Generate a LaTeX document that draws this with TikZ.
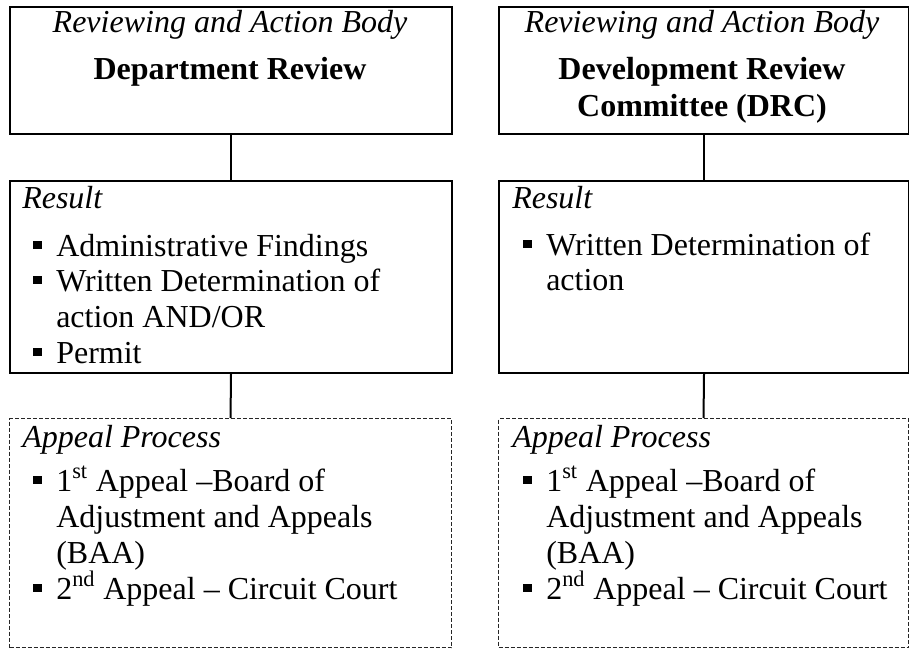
\documentclass[tikz,border=0pt]{standalone}
\usepackage{fontspec}
\setmainfont{Liberation Serif}
\begin{document}
\begin{tikzpicture}[x=0.75pt,y=-0.75pt,
  font=\fontsize{24pt}{27pt}\selectfont,
  solidbox/.style={draw, line width=1.5pt, inner sep=0pt, anchor=north west},
  dashbox/.style={draw=black!85, line width=0.8pt, dash pattern=on 3pt off 1.5pt, inner sep=0pt, anchor=north west},
  txt/.style={inner sep=0pt, anchor=base west},
  ctr/.style={inner sep=0pt, anchor=base},
  bul/.style={inner sep=0pt, anchor=base west},
  conn/.style={line width=1.5pt}]
\useasboundingbox (0,0) rectangle (909,649);
\newcommand\sqbul{\rule[5.25pt]{6.3pt}{6.3pt}}

% ---------- left column ----------
\node[solidbox, minimum width=331.5pt, minimum height=95.25pt] (b1) at (9,6) {};
\node[solidbox, minimum width=331.5pt, minimum height=144pt] (r1) at (9,180) {};
\node[dashbox, minimum width=331.5pt, minimum height=171.75pt] (a1) at (9,418) {};

\node[ctr] (b1t) at (230,33) {\itshape Reviewing and Action Body};
\node[ctr] (b1n) at (230,80) {\bfseries Department Review};

\node[txt] (r1t) at (22,208) {\itshape Result};
\node[bul] (r1b1) at (33,256) {\sqbul};
\node[txt] (r1l1) at (56,256) {Administrative Findings};
\node[bul] (r1b2) at (33,291) {\sqbul};
\node[txt] (r1l2) at (56,291) {Written Determination of};
\node[txt] (r1l3) at (56,327) {action AND/OR};
\node[bul] (r1b3) at (33,363) {\sqbul};
\node[txt] (r1l4) at (56,363) {Permit};

\node[txt] (a1t) at (22,447) {\itshape Appeal Process};
\node[bul] (a1b1) at (33,491) {\sqbul};
\node[txt] (a1l1) at (56,491) {1\textsuperscript{st} Appeal --Board of};
\node[txt] (a1l2) at (56,527) {Adjustment and Appeals};
\node[txt] (a1l3) at (56,563) {(BAA)};
\node[bul] (a1b2) at (33,599) {\sqbul};
\node[txt] (a1l4) at (56,599) {2\textsuperscript{nd} Appeal -- Circuit Court};

\draw[conn] (b1.south) -- (r1.north);
\draw[conn] (r1.south) -- (a1.north);

% ---------- right column ----------
\node[solidbox, minimum width=307.5pt, minimum height=95.25pt] (b2) at (498,6) {};
\node[solidbox, minimum width=307.5pt, minimum height=144pt] (r2) at (498,180) {};
\node[dashbox, minimum width=307.5pt, minimum height=171.75pt] (a2) at (498,418) {};

\node[ctr] (b2t) at (702,33) {\itshape Reviewing and Action Body};
\node[ctr] (b2n) at (702,80) {\bfseries Development Review};
\node[ctr] (b2m) at (702,117) {\bfseries Committee (DRC)};

\node[txt] (r2t) at (512,208) {\itshape Result};
\node[bul] (r2b1) at (523,255) {\sqbul};
\node[txt] (r2l1) at (546,255) {Written Determination of};
\node[txt] (r2l2) at (546,290) {action};

\node[txt] (a2t) at (512,447) {\itshape Appeal Process};
\node[bul] (a2b1) at (523,491) {\sqbul};
\node[txt] (a2l1) at (546,491) {1\textsuperscript{st} Appeal --Board of};
\node[txt] (a2l2) at (546,527) {Adjustment and Appeals};
\node[txt] (a2l3) at (546,563) {(BAA)};
\node[bul] (a2b2) at (523,599) {\sqbul};
\node[txt] (a2l4) at (546,599) {2\textsuperscript{nd} Appeal -- Circuit Court};

\draw[conn] (b2.south) -- (r2.north);
\draw[conn] (r2.south) -- (a2.north);
\end{tikzpicture}
\end{document}
